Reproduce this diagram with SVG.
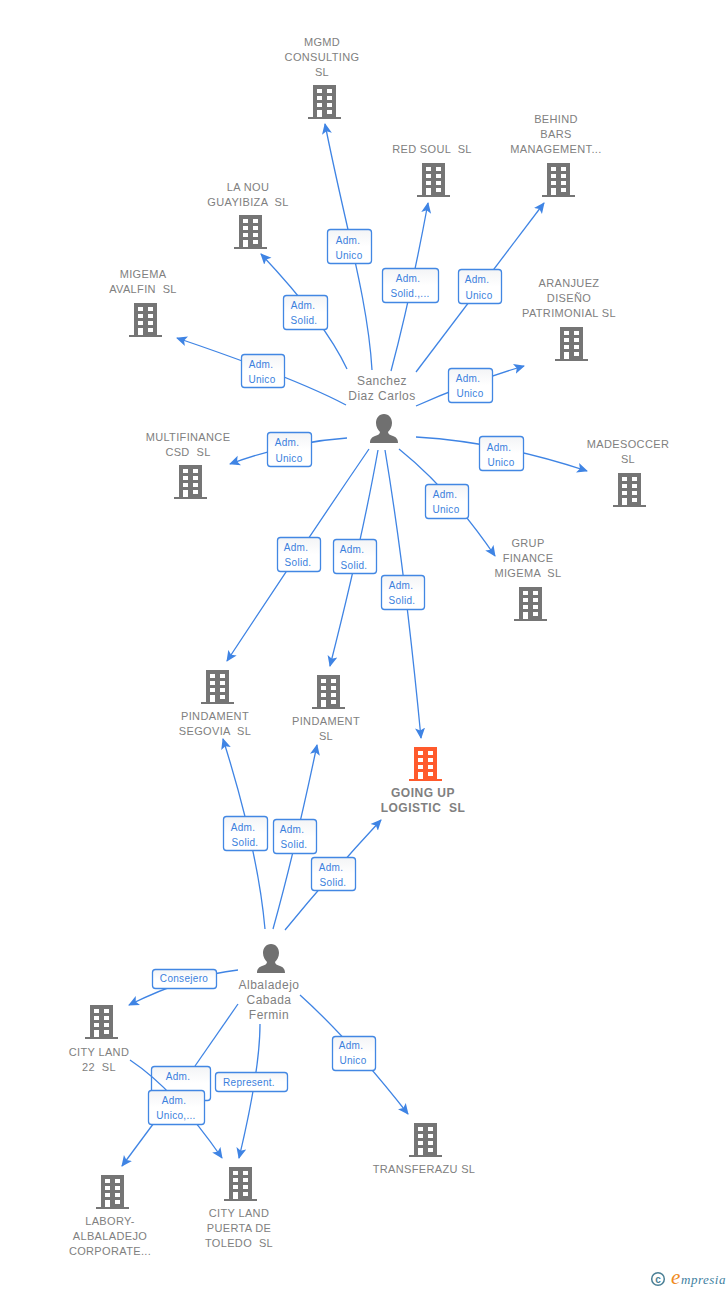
<svg xmlns="http://www.w3.org/2000/svg" width="728" height="1290" viewBox="0 0 728 1290">
<style>
text{font-family:"Liberation Sans",Arial,sans-serif;white-space:pre}
.n{font-size:11px;fill:#808080;text-anchor:middle;letter-spacing:.35px}
.p{font-size:12px;fill:#808080;text-anchor:middle;letter-spacing:.5px}
.t{font-size:12px;fill:#808080;text-anchor:middle;letter-spacing:.5px;font-weight:bold}
.l{font-size:10px;fill:#3b7fdd;text-anchor:middle;letter-spacing:.3px}
.b{fill:url(#lg);stroke:#4287e3;stroke-width:1.3}
.c{fill:none;stroke:#3f84e4;stroke-width:1.3;marker-end:url(#a)}
.s{fill:none;stroke:#3f84e4;stroke-width:1.3}
.bg{fill:#757575}
</style>
<defs>
<linearGradient id="lg" x1="0" y1="0" x2="0" y2="1"><stop offset="0" stop-color="#f3f4f6"/><stop offset=".5" stop-color="#fff"/></linearGradient>
<marker id="a" viewBox="0 0 11 11" refX="10" refY="5.500" markerWidth="11" markerHeight="11" markerUnits="userSpaceOnUse" orient="auto"><path d="M0,0.500L11,5.500L0,10.500L2.500,5.500Z" fill="#3f84e4"/></marker>
<path id="bp" fill-rule="evenodd" d="M5,0H28V32H33V34H0V32H5ZM9,4V8H14V4ZM19,4V8H24V4ZM9,11V15H14V11ZM19,11V15H24V11ZM9,18V22H14V18ZM19,18V22H24V18ZM9,25V32H14V25ZM19,25V29H24V25Z"/>
<path id="pp" d="M14,0C19,0 22,4 22,9C22,13 20,16 18,18C18,20 20,21 23,22C26,23 28,25 28,29H0C0,25 2,23 5,22C8,21 10,20 10,18C8,16 6,13 6,9C6,4 9,0 14,0Z" fill="#707070"/>
</defs>
<rect width="728" height="1290" fill="#fff"/>
<g id="l17"><rect class="b" x="151.500" y="1066.500" width="59" height="34" rx="3"/><text class="l"><tspan x="178" y="1080">Adm.</tspan></text></g>
<g id="connectors">
<path class="c" d="M372,370C368,300 345,225 325,124"/>
<path class="c" d="M391,371Q410,300 428,203"/>
<path class="c" d="M416,372L544,203"/>
<path class="c" d="M347,369Q325,322 261,254"/>
<path class="c" d="M346,405Q295,378 177,338"/>
<path class="c" d="M416,406Q470,382 524,366"/>
<path class="c" d="M347,438Q290,442 230,464"/>
<path class="c" d="M416,437Q500,442 587,471"/>
<path class="c" d="M399,449Q450,490 495,556"/>
<path class="c" d="M369,449Q300,550 227,661"/>
<path class="c" d="M378,450Q362,540 330,666"/>
<path class="c" d="M385,450Q405,570 421,738"/>
<path class="c" d="M265,929Q258,850 223,739"/>
<path class="c" d="M273,929Q295,850 317,745"/>
<path class="c" d="M285,930Q330,875 381,820"/>
<path class="c" d="M238,970Q190,975 129,1005"/>
<path class="s" d="M238,1004L195,1066"/>
<path class="c" d="M165,1108L122,1166"/>
<path class="c" d="M130,1060Q175,1090 222,1158"/>
<path class="c" d="M260,1024Q260,1070 239,1158"/>
<path class="c" d="M300,995Q350,1040 408,1114"/>
</g>
<g id="n-mgmd"><use href="#bp" x="308" y="85" class="bg"/><text class="n"><tspan x="322" y="46">MGMD</tspan><tspan x="322" y="61">CONSULTING</tspan><tspan x="322" y="76">SL</tspan></text></g>
<g id="n-redsoul"><use href="#bp" x="417" y="163" class="bg"/><text class="n"><tspan x="432" y="153">RED SOUL  SL</tspan></text></g>
<g id="n-behind"><use href="#bp" x="542" y="163" class="bg"/><text class="n"><tspan x="556" y="123">BEHIND</tspan><tspan x="556" y="138">BARS</tspan><tspan x="556" y="153">MANAGEMENT...</tspan></text></g>
<g id="n-lanou"><use href="#bp" x="234" y="215" class="bg"/><text class="n"><tspan x="248" y="191">LA NOU</tspan><tspan x="248" y="206">GUAYIBIZA  SL</tspan></text></g>
<g id="n-migema"><use href="#bp" x="129" y="303" class="bg"/><text class="n"><tspan x="143" y="278">MIGEMA</tspan><tspan x="143" y="293">AVALFIN  SL</tspan></text></g>
<g id="n-aranjuez"><use href="#bp" x="555" y="327" class="bg"/><text class="n"><tspan x="569" y="287">ARANJUEZ</tspan><tspan x="569" y="302">DISEÑO</tspan><tspan x="569" y="317">PATRIMONIAL SL</tspan></text></g>
<g id="n-multifinance"><use href="#bp" x="174" y="465" class="bg"/><text class="n"><tspan x="188" y="441">MULTIFINANCE</tspan><tspan x="188" y="456">CSD  SL</tspan></text></g>
<g id="n-madesoccer"><use href="#bp" x="613" y="473" class="bg"/><text class="n"><tspan x="628" y="448">MADESOCCER</tspan><tspan x="628" y="463">SL</tspan></text></g>
<g id="n-grup"><use href="#bp" x="514" y="587" class="bg"/><text class="n"><tspan x="528" y="547">GRUP</tspan><tspan x="528" y="562">FINANCE</tspan><tspan x="528" y="577">MIGEMA  SL</tspan></text></g>
<g id="n-segovia"><use href="#bp" x="201" y="670" class="bg"/><text class="n"><tspan x="215" y="720">PINDAMENT</tspan><tspan x="215" y="735">SEGOVIA  SL</tspan></text></g>
<g id="n-pindament"><use href="#bp" x="312" y="675" class="bg"/><text class="n"><tspan x="326" y="725">PINDAMENT</tspan><tspan x="326" y="740">SL</tspan></text></g>
<g id="n-goingup"><use href="#bp" x="409" y="747" fill="#ff5a2c"/><text class="t"><tspan x="423" y="797">GOING UP</tspan><tspan x="423" y="812">LOGISTIC  SL</tspan></text></g>
<g id="n-cityland22"><use href="#bp" x="85" y="1005" class="bg"/><text class="n"><tspan x="99" y="1056">CITY LAND</tspan><tspan x="99" y="1071">22  SL</tspan></text></g>
<g id="n-labory"><use href="#bp" x="96" y="1175" class="bg"/><text class="n"><tspan x="110" y="1225">LABORY-</tspan><tspan x="110" y="1240">ALBALADEJO</tspan><tspan x="110" y="1255">CORPORATE...</tspan></text></g>
<g id="n-puerta"><use href="#bp" x="224" y="1167" class="bg"/><text class="n"><tspan x="239" y="1217">CITY LAND</tspan><tspan x="239" y="1232">PUERTA DE</tspan><tspan x="239" y="1247">TOLEDO  SL</tspan></text></g>
<g id="n-transferazu"><use href="#bp" x="409" y="1123" class="bg"/><text class="n"><tspan x="424" y="1173">TRANSFERAZU SL</tspan></text></g>
<g id="n-sanchez"><use href="#pp" x="370" y="414"/><text class="p"><tspan x="382" y="385">Sanchez</tspan><tspan x="382" y="400">Diaz Carlos</tspan></text></g>
<g id="n-albaladejo"><use href="#pp" x="257" y="944"/><text class="p"><tspan x="269" y="989">Albaladejo</tspan><tspan x="269" y="1004">Cabada</tspan><tspan x="269" y="1019">Fermin</tspan></text></g>
<g id="labels">
<g id="l1"><rect class="b" x="327.500" y="229.500" width="44" height="34" rx="3"/><text class="l"><tspan x="348" y="244">Adm.</tspan><tspan x="349" y="258.500">Unico</tspan></text></g>
<g id="l2"><rect class="b" x="382.500" y="268.500" width="56" height="34" rx="3"/><text class="l"><tspan x="408" y="282">Adm.</tspan><tspan x="410" y="296.500">Solid.,...</tspan></text></g>
<g id="l3"><rect class="b" x="458.500" y="269.500" width="43" height="34" rx="3"/><text class="l"><tspan x="477" y="283">Adm.</tspan><tspan x="479" y="298.500">Unico</tspan></text></g>
<g id="l4"><rect class="b" x="283.500" y="295.500" width="44" height="34" rx="3"/><text class="l"><tspan x="303" y="308.500">Adm.</tspan><tspan x="304" y="323.500">Solid.</tspan></text></g>
<g id="l5"><rect class="b" x="241.500" y="354.500" width="43" height="33" rx="3"/><text class="l"><tspan x="261" y="367.500">Adm.</tspan><tspan x="262" y="382.500">Unico</tspan></text></g>
<g id="l6"><rect class="b" x="448.500" y="368.500" width="44" height="34" rx="3"/><text class="l"><tspan x="468" y="381.500">Adm.</tspan><tspan x="470" y="396.500">Unico</tspan></text></g>
<g id="l7"><rect class="b" x="267.500" y="432.500" width="44" height="34" rx="3"/><text class="l"><tspan x="287" y="446">Adm.</tspan><tspan x="289" y="461.500">Unico</tspan></text></g>
<g id="l8"><rect class="b" x="479.500" y="436.500" width="44" height="34" rx="3"/><text class="l"><tspan x="499" y="450.500">Adm.</tspan><tspan x="501" y="465.500">Unico</tspan></text></g>
<g id="l9"><rect class="b" x="425.500" y="484.500" width="43" height="34" rx="3"/><text class="l"><tspan x="445" y="498">Adm.</tspan><tspan x="446" y="513">Unico</tspan></text></g>
<g id="l10"><rect class="b" x="277.500" y="537.500" width="43" height="34" rx="3"/><text class="l"><tspan x="296" y="550.500">Adm.</tspan><tspan x="298" y="565.500">Solid.</tspan></text></g>
<g id="l11"><rect class="b" x="333.500" y="539.500" width="43" height="34" rx="3"/><text class="l"><tspan x="352" y="553">Adm.</tspan><tspan x="354" y="568.500">Solid.</tspan></text></g>
<g id="l12"><rect class="b" x="381.500" y="575.500" width="43" height="34" rx="3"/><text class="l"><tspan x="401" y="588.500">Adm.</tspan><tspan x="402" y="603.500">Solid.</tspan></text></g>
<g id="l13"><rect class="b" x="223.500" y="816.500" width="44" height="34" rx="3"/><text class="l"><tspan x="243" y="830.500">Adm.</tspan><tspan x="245" y="845.500">Solid.</tspan></text></g>
<g id="l14"><rect class="b" x="273.500" y="819.500" width="43" height="34" rx="3"/><text class="l"><tspan x="292" y="833">Adm.</tspan><tspan x="294" y="847.500">Solid.</tspan></text></g>
<g id="l15"><rect class="b" x="311.500" y="857.500" width="44" height="33" rx="3"/><text class="l"><tspan x="331" y="870.500">Adm.</tspan><tspan x="333" y="885.500">Solid.</tspan></text></g>
<g id="l16"><rect class="b" x="152.500" y="969.500" width="64" height="19" rx="3"/><text class="l"><tspan x="184" y="982">Consejero</tspan></text></g>
<g id="l18"><rect class="b" x="148.500" y="1090.500" width="56" height="34" rx="3"/><text class="l"><tspan x="174" y="1104">Adm.</tspan><tspan x="176" y="1118.500">Unico,...</tspan></text></g>
<g id="l19"><rect class="b" x="215.500" y="1072.500" width="72" height="19" rx="3"/><text class="l"><tspan x="249" y="1086">Represent.</tspan></text></g>
<g id="l20"><rect class="b" x="332.500" y="1036.500" width="43" height="34" rx="3"/><text class="l"><tspan x="351" y="1049">Adm.</tspan><tspan x="353" y="1064">Unico</tspan></text></g>
</g>
<g id="logo"><circle cx="658" cy="1279" r="6.300" fill="none" stroke="#4a7f95" stroke-width="1.500"/><text x="658" y="1282.500" fill="#4a7f95" text-anchor="middle" style="font-size:10px;font-weight:bold">c</text><text x="671" y="1284" fill="#f08a1d" style="font-family:'Liberation Serif',serif;font-size:21px;font-style:italic">e</text><text x="681" y="1284" fill="#3f7f9f" letter-spacing=".5" style="font-family:'Liberation Serif',serif;font-size:13px;font-style:italic">mpresia</text></g>
</svg>
